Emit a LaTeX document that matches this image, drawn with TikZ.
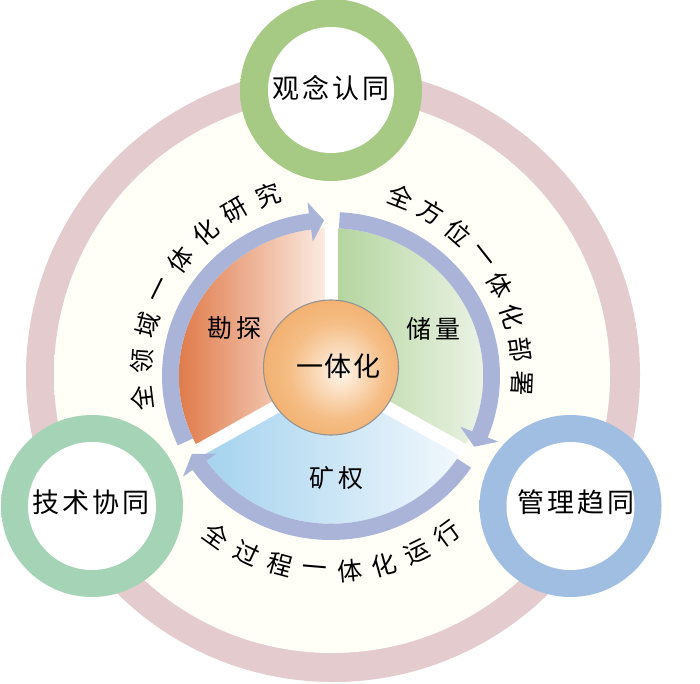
\documentclass[tikz,border=0pt]{standalone}
\usepackage{fontspec}
\newfontfamily\cjk{Noto Sans CJK SC}
\usetikzlibrary{calc}
\definecolor{pinkring}{HTML}{E4CBCE}
\definecolor{creamin}{HTML}{FFFFF8}
\definecolor{creamout}{HTML}{FBF9E2}
\definecolor{arrowc}{HTML}{A9B4D8}
\definecolor{orL}{HTML}{E07B4A}
\definecolor{orR}{HTML}{FCF0E8}
\definecolor{grL}{HTML}{B2D49C}
\definecolor{grR}{HTML}{F3F7EF}
\definecolor{blL}{HTML}{A3D2EE}
\definecolor{blR}{HTML}{F2F8FD}
\definecolor{ballA}{HTML}{FFF5EA}
\definecolor{ballB}{HTML}{F5BD85}
\definecolor{ballC}{HTML}{EE9F52}
\definecolor{ballD}{HTML}{E99444}
\definecolor{gA}{HTML}{A6C983}
\definecolor{gB}{HTML}{8CB65C}
\definecolor{gC}{HTML}{83AE53}
\definecolor{tA}{HTML}{A4D3B6}
\definecolor{tB}{HTML}{83C29C}
\definecolor{tC}{HTML}{78BA92}
\definecolor{bA}{HTML}{A0BEE2}
\definecolor{bB}{HTML}{7CA4D2}
\definecolor{bC}{HTML}{729BCB}
\pgfdeclareradialshading{ballsh}{\pgfpoint{4bp}{-2bp}}{color(0bp)=(ballA); color(18bp)=(ballB); color(40bp)=(ballC); color(50bp)=(ballD)}
\pgfdeclareradialshading{greenring}{\pgfpointorigin}{color(0bp)=(gA); color(34bp)=(gA); color(40bp)=(gB); color(50bp)=(gC)}
\pgfdeclareradialshading{tealring}{\pgfpointorigin}{color(0bp)=(tA); color(34bp)=(tA); color(40bp)=(tB); color(50bp)=(tC)}
\pgfdeclareradialshading{bluering}{\pgfpointorigin}{color(0bp)=(bA); color(34bp)=(bA); color(40bp)=(bB); color(50bp)=(bC)}
\pgfdeclareradialshading{creamsh}{\pgfpointorigin}{color(0bp)=(creamin); color(30bp)=(creamin); color(50bp)=(creamout)}
\begin{document}
\begin{tikzpicture}[x=1pt,y=1pt,
  lab/.style={font=\cjk\fontsize{27}{31}\selectfont, inner sep=0pt, text=black},
  seclab/.style={font=\cjk\fontsize{25}{29}\selectfont, inner sep=0pt, text=black},
  arclab/.style={font=\cjk\fontsize{25}{29}\selectfont, inner sep=0pt, text=black},
  band/.style={fill=arrowc}]
\useasboundingbox (0,0) rectangle (700,683);
\fill[white] (0,0) rectangle (700,683);
\coordinate (C) at (331,308);
% background disc
\fill[pinkring] (333,308) circle (307);
\shade[shading=creamsh] (332,308) circle (278);
% outer rings
\shade[shading=greenring] (331,593) circle (91);
\fill[white] (331,593) circle (63);
\shade[shading=tealring] (92,177) circle (91);
\fill[white] (92,177) circle (64);
\shade[shading=bluering] (570.5,177) circle (91);
\fill[white] (570.5,177) circle (64);
% sectors and arrows
\begin{scope}[shift={(331,307)}, xscale=1.015, yscale=0.985]
  \shade[left color=orL, right color=orR] (0,0) -- (90:150) arc[start angle=90,end angle=210,radius=150] -- cycle;
  \shade[left color=grL, right color=grR] (0,0) -- (-30:150) arc[start angle=-30,end angle=90,radius=150] -- cycle;
  \shade[left color=blL, right color=blR] (0,0) -- (210:150) arc[start angle=210,end angle=330,radius=150] -- cycle;
  \foreach \a in {90,210,330} \draw[white, line width=13pt] (0,0) -- (\a:151);
  \fill[band] (205:166.5) arc[start angle=205,end angle=97.5,radius=166.5] -- (97.5:178) -- (92.5:158.25) -- (97.5:137.5) -- (97.5:150) arc[start angle=97.5,end angle=205,radius=150] -- cycle;
  \fill[band] (87:166.5) arc[start angle=87,end angle=-22,radius=166.5] -- (-22:178) -- (-27:158.25) -- (-22:137.5) -- (-22:150) arc[start angle=-22,end angle=87,radius=150] -- cycle;
  \fill[band] (326:166.5) arc[start angle=326,end angle=215,radius=166.5] -- (215:178) -- (210:158.25) -- (215:137.5) -- (215:150) arc[start angle=215,end angle=326,radius=150] -- cycle;
\end{scope}
% center ball
\shadedraw[shading=ballsh, draw=black!42, line width=1.1pt] (331,315.5) circle (67.5);
% labels
\node[lab] (top) at (331,594.5) {观\hspace{3pt}念\hspace{3pt}认\hspace{3pt}同};
\node[lab] (left) at (91,180.5) {技\hspace{3pt}术\hspace{3pt}协\hspace{3pt}同};
\node[lab] (right) at (576,180.5) {管\hspace{3pt}理\hspace{3pt}趋\hspace{3pt}同};
\node[seclab] (kt) at (234,355) {勘\hspace{4pt}探};
\node[seclab] (cl) at (433.5,354.5) {储\hspace{4pt}量};
\node[seclab] (kq) at (336,205.5) {矿\hspace{4pt}权};
\node[lab] (yth) at (338.5,317) {一\hspace{1.5pt}体\hspace{1.5pt}化};
% curved texts
\foreach \ch [count=\i from 0] in {全,领,域,一,体,化,研,究} {
  \pgfmathsetmacro\ang{186.9-11.1*\i}
  \node[arclab, rotate=\ang-90] (l\i) at ($(C)+(\ang:190)$) {\ch};
}
\foreach \ch [count=\i from 0] in {全,方,位,一,体,化,部,署} {
  \pgfmathsetmacro\ang{68.6-10.15*\i}
  \node[arclab, rotate=\ang-90] (r\i) at ($(C)+(\ang:191)$) {\ch};
}
\foreach \ch [count=\i from 0] in {全,过,程,一,体,化,运,行} {
  \pgfmathsetmacro\ang{234.4+10.26*\i}
  \node[arclab, rotate=\ang+90] (b\i) at ($(C)+(\ang:197)$) {\ch};
}
\end{tikzpicture}
\end{document}
